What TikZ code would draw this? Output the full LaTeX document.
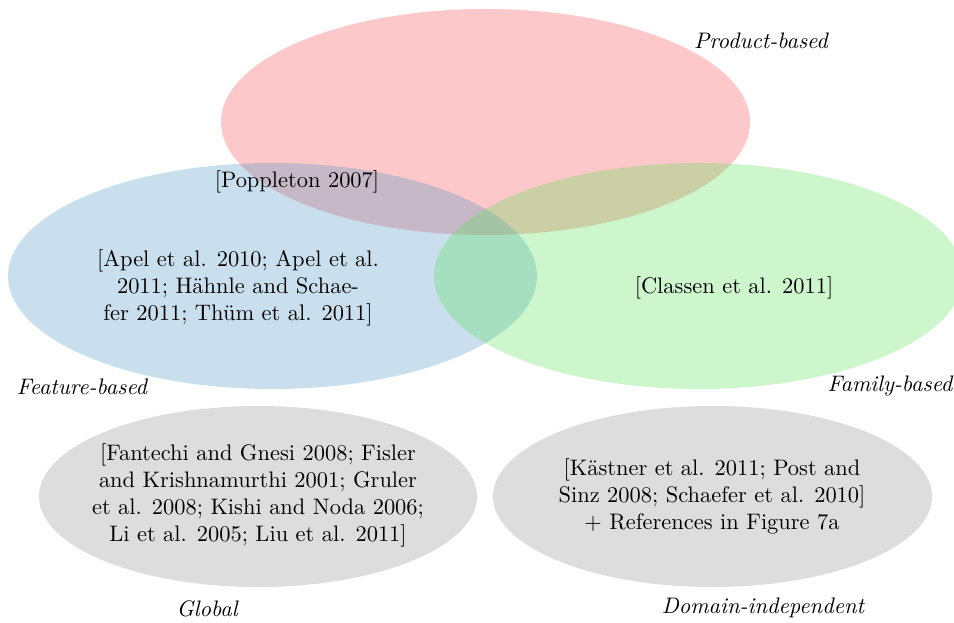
\documentclass[tikz,border=0pt]{standalone}
\usepackage{fontspec}
\definecolor{prodred}{RGB}{248,72,75}
\definecolor{featblue}{RGB}{75,148,198}
\definecolor{famgreen}{RGB}{88,225,88}
\definecolor{othergray}{RGB}{221,221,221}
\begin{document}
\begin{tikzpicture}[x=0.4455pt,y=0.4455pt]
\tikzstyle{every node}+=[inner sep=0pt]
\tikzstyle{blob}=[fill opacity=0.3]
\tikzstyle{refs}=[align=center]
\tikzstyle{kind}=[font=\itshape]
\useasboundingbox (0,0) rectangle (954,-622);
\fill [prodred, blob] (485.5,-122) ellipse (264.5 and 113);
\fill [featblue, blob] (272.5,-276) ellipse (264.5 and 113);
\fill [famgreen, blob] (698.5,-276) ellipse (264.5 and 113);
\fill [othergray] (258,-496.5) ellipse (219 and 90.5);
\fill [othergray] (712.5,-496.5) ellipse (219.5 and 90.5);
\draw (761,-41) node [kind] (product) {Product-based};
\draw (82,-387) node [kind] (feature) {Feature-based};
\draw (890,-386) node [kind] (family) {Family-based};
\draw (207,-609) node [kind] (global) {Global};
\draw (763,-608) node [kind] (domain) {Domain-independent};
\draw (297,-182) node (poppleton) {[Poppleton 2007]};
\draw (238,-288) node [refs] (featrefs) {[Apel et al. 2010; Apel et al.\\2011; H\"ahnle and Schae-\\fer 2011; Th\"um et al. 2011]};
\draw (734,-288) node (classen) {[Classen et al. 2011]};
\draw (258,-495) node [refs] (globalrefs) {[Fantechi and Gnesi 2008; Fisler\\and Krishnamurthi 2001; Gruler\\et al. 2008; Kishi and Noda 2006;\\Li et al. 2005; Liu et al. 2011]};
\draw (712,-496) node [refs] (domainrefs) {[K\"astner et al. 2011; Post and\\Sinz 2008; Schaefer et al. 2010]\\+ References in Figure 7a};
\end{tikzpicture}
\end{document}
